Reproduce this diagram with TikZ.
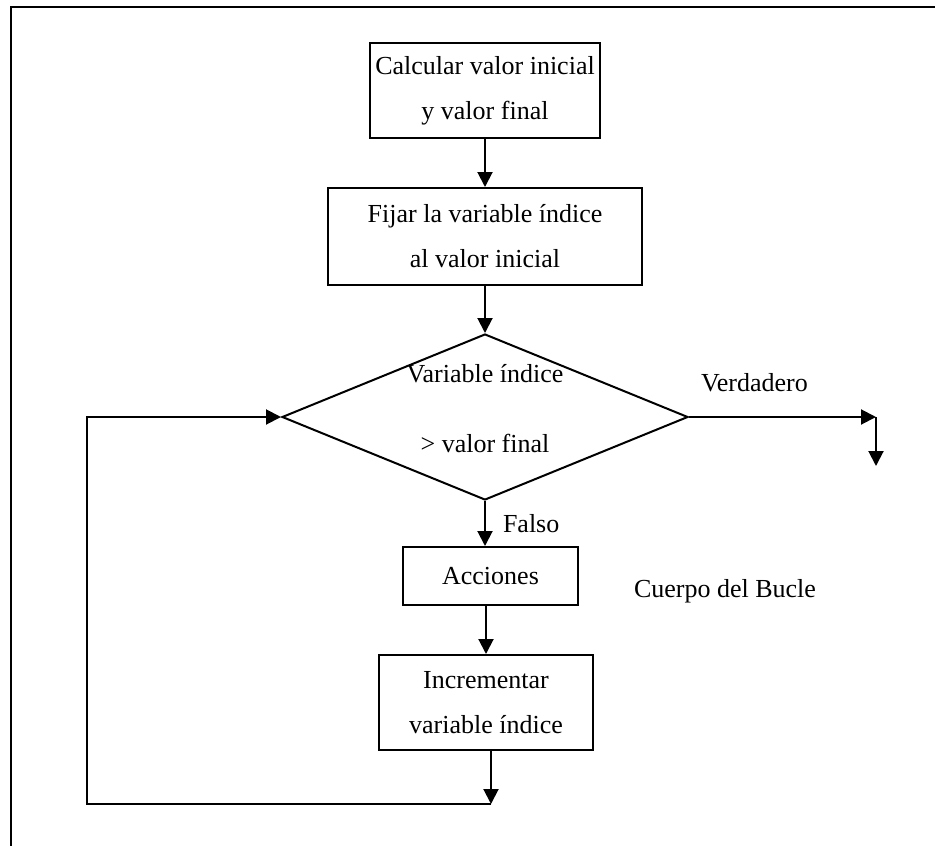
\documentclass[tikz,border=0pt]{standalone}
\usepackage{fontspec}
\setmainfont{Liberation Serif}
\usetikzlibrary{shapes.geometric,arrows.meta}
\begin{document}
\begin{tikzpicture}[x=1pt,y=-1pt,
  line width=2pt,
  every node/.style={font=\fontsize{26}{45}\selectfont, inner sep=0pt},
  stepbox/.style={draw, rectangle, align=center},
  decision/.style={draw, diamond, minimum width=406pt, minimum height=166pt, inner sep=0pt},
  flow/.style={-{Triangle[length=15pt,width=15pt]}},
  tag/.style={anchor=base west},
]
\useasboundingbox (0,0) rectangle (935,846);
% page frame (top and left rules)
\draw[line width=2.2pt] (11,846) -- (11,7) -- (935,7);

% process steps
\node[stepbox, minimum width=230pt, minimum height=95pt] (calc) at (485,90.5)
  {Calcular valor inicial\\y valor final};
\node[stepbox, minimum width=314pt, minimum height=97pt] (fijar) at (485,236.5)
  {Fijar la variable índice\\al valor inicial};
\node[decision] (cond) at (485,417) {};
\node[align=center] (condtxt) at (485,409) {Variable índice\\[25pt]> valor final};
\node[stepbox, minimum width=175pt, minimum height=58pt] (acc) at (490.5,576) {Acciones};
\node[stepbox, minimum width=214pt, minimum height=95pt] (incr) at (486,702.5)
  {Incrementar\\variable índice};

% main flow
\draw[flow] (calc.south) -- (fijar.north);
\draw[flow] (fijar.south) -- (cond.north);
\draw[flow] (cond.south) -- (cond.south |- acc.north);
\draw[flow] (acc.south -| incr.north) -- (incr.north);

% loop back to the condition
\coordinate (back) at (491,804);
\coordinate (corner) at (87,804);
\draw[flow] (incr.south -| back) -- (back);
\draw[flow] (back) -- (corner) |- (cond.west);

% exit branch
\coordinate (tright) at (876,417);
\coordinate (tdown) at (876,466);
\draw[flow] (cond.east) -- (tright);
\draw[flow] (tright) -- (tdown);

% labels
\node[tag] (verd) at (700,391) {Verdadero};
\node[tag] (falso) at (502,532) {Falso};
\node[tag] (cuerpo) at (633,597) {Cuerpo del Bucle};
\end{tikzpicture}
\end{document}
